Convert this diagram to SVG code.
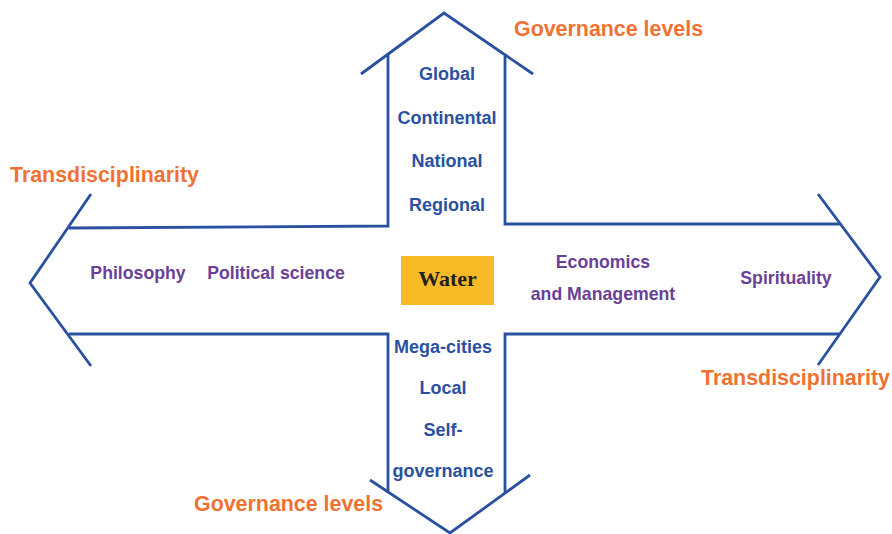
<svg xmlns="http://www.w3.org/2000/svg" width="892" height="534" viewBox="0 0 892 534">
  <style>
    .ln { fill: none; stroke: #2A50A0; stroke-width: 2.8; stroke-linejoin: miter; }
    .lvl { font-family: "Liberation Sans", Arial, sans-serif; font-weight: bold; font-size: 18px; fill: #2A50A0; text-anchor: middle; }
    .disc { font-family: "Liberation Sans", Arial, sans-serif; font-weight: bold; font-size: 17.7px; fill: #6A3F98; text-anchor: middle; }
    .head { font-family: "Liberation Sans", Arial, sans-serif; font-weight: bold; font-size: 21.4px; fill: #F07232; }
    .core { font-family: "Liberation Serif", "Times New Roman", serif; font-weight: bold; font-size: 22px; fill: #231F20; text-anchor: middle; }
  </style>
  <rect width="892" height="534" fill="#FFFFFF"/>

  <!-- cross-shaped double arrow outline -->
  <g id="connectors">
    <polyline class="ln" points="361,74 444,13 533,74"/>
    <polyline class="ln" points="388,54 388,226 69,228"/>
    <polyline class="ln" points="505,56 505,224 840,224"/>
    <polyline class="ln" points="69,334 388,334 388,493"/>
    <polyline class="ln" points="505,493 505,334 840,334"/>
    <polyline class="ln" points="91,194 30,283 91,366"/>
    <polyline class="ln" points="818,194 880,277 818,365"/>
    <polyline class="ln" points="370,480 450,533 530,475"/>
  </g>

  <g id="water">
    <rect x="401" y="256" width="93" height="49" fill="#F8BA26"/>
    <text class="core" x="447.5" y="286">Water</text>
  </g>

  <g id="levels-up">
    <text class="lvl" x="447" y="80">Global</text>
    <text class="lvl" x="447" y="124">Continental</text>
    <text class="lvl" x="447" y="167">National</text>
    <text class="lvl" x="447" y="211">Regional</text>
  </g>

  <g id="levels-down">
    <text class="lvl" x="443" y="353">Mega-cities</text>
    <text class="lvl" x="443" y="394">Local</text>
    <text class="lvl" x="443" y="436">Self-</text>
    <text class="lvl" x="443" y="477">governance</text>
  </g>

  <g id="disciplines-left">
    <text class="disc" x="138" y="279">Philosophy</text>
    <text class="disc" x="276" y="279">Political science</text>
  </g>

  <g id="disciplines-right">
    <text class="disc" x="603" y="268">Economics</text>
    <text class="disc" x="603" y="300">and Management</text>
    <text class="disc" x="786" y="284">Spirituality</text>
  </g>

  <g id="heading-top"><text class="head" x="514" y="36">Governance levels</text></g>
  <g id="heading-bottom"><text class="head" x="194" y="511">Governance levels</text></g>
  <g id="heading-left"><text class="head" x="10" y="182">Transdisciplinarity</text></g>
  <g id="heading-right"><text class="head" x="701" y="385">Transdisciplinarity</text></g>
</svg>
